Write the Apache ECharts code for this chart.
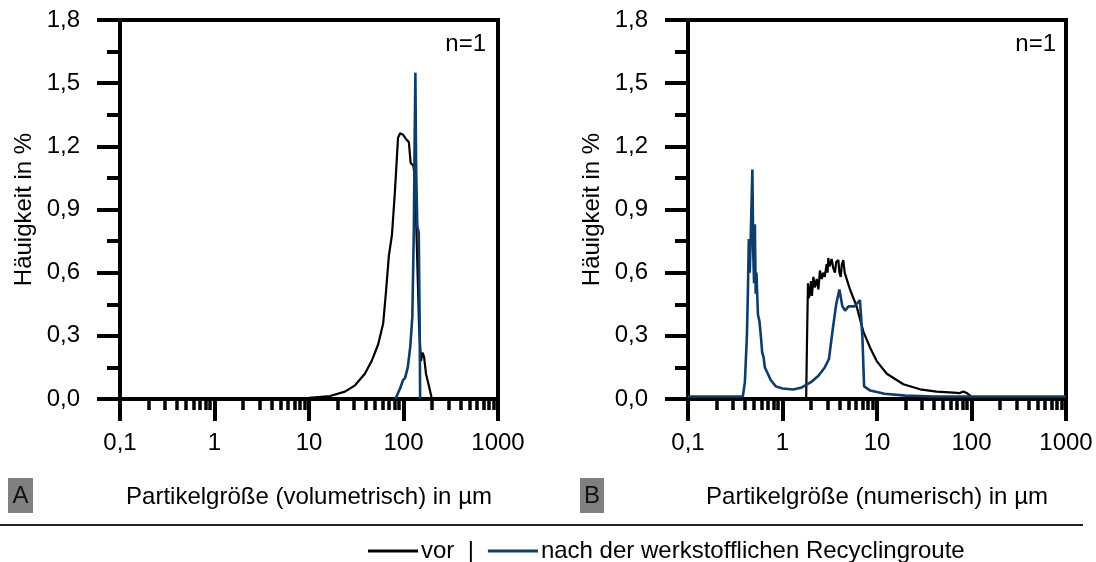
<!DOCTYPE html>
<html>
<head>
<meta charset="utf-8">
<script src="https://cdn.jsdelivr.net/npm/echarts@6/dist/echarts.min.js"></script>
<style>
  html, body { margin: 0; padding: 0; background: #fff; }
  #chart { width: 1096px; height: 562px; }
</style>
</head>
<body>
<div id="chart"></div>
<script>
// Panel A: volumetric distribution
var volSizeVor = [1, 4.9, 10, 16.7, 24, 30.7, 39, 46, 54, 61, 65, 70, 75.5, 81, 87.5, 92, 99, 106, 114, 119, 127, 132, 139, 146, 153, 159, 165, 173, 186, 200];
var volVor     = [0, 0.002, 0.006, 0.014, 0.035, 0.065, 0.12, 0.18, 0.26, 0.36, 0.5, 0.68, 0.78, 0.98, 1.24, 1.262, 1.255, 1.235, 1.22, 1.12, 1.11, 1.05, 0.7, 0.35, 0.18, 0.22, 0.2, 0.12, 0.06, 0];
var volSizeNach = [82, 92, 99, 104, 111, 118, 124, 128.5, 131, 133.6, 136, 140, 145, 148, 150];
var volNach     = [0, 0.05, 0.09, 0.1, 0.15, 0.25, 0.39, 0.79, 1.2, 1.55, 1.1, 0.82, 0.79, 0.4, 0];

// Panel B: numeric distribution
var numSizeVor = [1.78, 1.82, 1.86, 1.9, 1.95, 2.0, 2.05, 2.12, 2.2, 2.3, 2.4, 2.49, 2.6, 2.7, 2.8, 2.93, 3.0, 3.05, 3.15, 3.31, 3.45, 3.59, 3.7, 3.9, 4.0, 4.13, 4.25, 4.4, 4.55, 4.7, 5.18, 6.09, 7.17, 8.43, 9.93, 12.7, 19, 28.5, 42.8, 64, 75, 82, 88, 95, 100, 105];
var numVor     = [0, 0.3, 0.55, 0.48, 0.5, 0.56, 0.49, 0.58, 0.53, 0.57, 0.52, 0.61, 0.57, 0.6, 0.58, 0.64, 0.6, 0.67, 0.63, 0.665, 0.62, 0.6, 0.65, 0.66, 0.6, 0.58, 0.64, 0.66, 0.6, 0.58, 0.52, 0.44, 0.32, 0.245, 0.18, 0.12, 0.07, 0.046, 0.035, 0.03, 0.028, 0.035, 0.03, 0.02, 0.005, 0];
var numSizeNach = [0.1, 0.38, 0.40, 0.42, 0.43, 0.44, 0.45, 0.46, 0.48, 0.49, 0.50, 0.51, 0.52, 0.53, 0.55, 0.57, 0.59, 0.61, 0.63, 0.65, 0.70, 0.75, 0.85, 1.0, 1.3, 1.6, 2.0, 2.4, 2.8, 3.1, 3.4, 3.7, 4.0, 4.3, 4.6, 5.0, 5.8, 6.6, 7.0, 7.3, 8.5, 12, 20, 40, 100, 1000];
var numNach     = [0.012, 0.012, 0.08, 0.3, 0.5, 0.76, 0.6, 0.75, 1.09, 0.7, 0.55, 0.83, 0.5, 0.6, 0.4, 0.37, 0.3, 0.22, 0.2, 0.15, 0.12, 0.09, 0.06, 0.05, 0.045, 0.055, 0.08, 0.11, 0.15, 0.19, 0.33, 0.45, 0.52, 0.44, 0.42, 0.44, 0.44, 0.47, 0.3, 0.06, 0.04, 0.025, 0.016, 0.012, 0.012, 0.012];

var yTicks = [0, 0.3, 0.6, 0.9, 1.2, 1.5, 1.8];
var decades = [0.1, 1, 10, 100, 1000];

var FONT = "'Liberation Sans', Arial, sans-serif";
var FS = 24;
var BLUE = '#0f3d6b';

function pairs(xs, ys) {
    var out = [];
    for (var i = 0; i < xs.length; i++) out.push([xs[i], ys[i]]);
    return out;
}

// minor ticks at 2..9 of every decade
var minorTicks = [];
for (var d = 0; d < decades.length - 1; d++) {
    for (var k = 2; k <= 9; k++) minorTicks.push(+(decades[d] * k).toPrecision(6));
}

function comma(v) {
    return String(v).replace('.', ',');
}

function mainX(gridIndex, title) {
    return {
        type: 'log', logBase: 10, gridIndex: gridIndex, position: 'bottom',
        min: decades[0], max: decades[decades.length - 1],
        name: title, nameLocation: 'middle', nameGap: 86,
        nameTextStyle: { fontFamily: FONT, fontSize: FS, color: '#000' },
        axisLine: { onZero: false, lineStyle: { color: '#000', width: 4 } },
        axisTick: { show: true, inside: false, length: 22, lineStyle: { color: '#000', width: 4 } },
        axisLabel: { margin: 32, fontFamily: FONT, fontSize: FS, color: '#000',
            showMinLabel: true, showMaxLabel: true,
            formatter: function (v) { return comma(+v.toPrecision(6)); } },
        splitLine: { show: false }
    };
}

function minorX(gridIndex) {
    return {
        type: 'log', logBase: 10, gridIndex: gridIndex, position: 'bottom',
        min: decades[0], max: decades[decades.length - 1],
        axisLine: { show: false },
        axisTick: { show: true, inside: false, length: 11, customValues: minorTicks,
            lineStyle: { color: '#000', width: 3.5 } },
        axisLabel: { show: false },
        splitLine: { show: false }
    };
}

function yAx(gridIndex) {
    return {
        type: 'value', gridIndex: gridIndex,
        min: yTicks[0], max: yTicks[yTicks.length - 1], interval: 0.3,
        name: 'Häuigkeit in %', nameLocation: 'middle', nameGap: 84,
        nameTextStyle: { fontFamily: FONT, fontSize: FS, color: '#000' },
        axisLine: { show: true, lineStyle: { color: '#000', width: 4 } },
        axisTick: { show: true, inside: false, length: 23, lineStyle: { color: '#000', width: 4 } },
        minorTick: { show: true, splitNumber: 2, length: 13, lineStyle: { color: '#000', width: 4 } },
        axisLabel: { margin: 40, fontFamily: FONT, fontSize: FS, color: '#000',
            formatter: function (v) { return v.toFixed(1).replace('.', ','); } },
        splitLine: { show: false }
    };
}

function lineSeries(name, xi, yi, data, color, width, z) {
    return {
        name: name, type: 'line', xAxisIndex: xi, yAxisIndex: yi,
        data: data, symbol: 'none', showSymbol: false, z: z,
        lineStyle: { color: color, width: width },
        itemStyle: { color: color }
    };
}

var chart = echarts.init(document.getElementById('chart'));

var option = {
    animation: false,
    backgroundColor: '#fff',
    grid: [
        { left: 120, top: 20, width: 378, height: 379, show: true, borderColor: '#000', borderWidth: 4, backgroundColor: 'transparent' },
        { left: 688, top: 20, width: 378, height: 379, show: true, borderColor: '#000', borderWidth: 4, backgroundColor: 'transparent' }
    ],
    xAxis: [
        mainX(0, 'Partikelgröße (volumetrisch) in µm'),
        minorX(0),
        mainX(1, 'Partikelgröße (numerisch) in µm'),
        minorX(1)
    ],
    yAxis: [yAx(0), yAx(1)],
    legend: {
        left: 363, top: 534,
        itemWidth: 50, itemHeight: 14, itemGap: 14,
        icon: 'path://M0,6 L50,6 L50,9 L0,9 Z',
        textStyle: { fontFamily: FONT, fontSize: FS, color: '#000', padding: [0, 0, 0, -2] },
        formatter: function (name) { return name === 'vor' ? 'vor  |' : name; },
        data: ['vor', 'nach der werkstofflichen Recyclingroute']
    },
    graphic: [
        { type: 'rect', shape: { x: 8, y: 478, width: 25, height: 35 }, style: { fill: '#808080' } },
        { type: 'text', x: 20.5, y: 496, style: { text: 'A', font: FS + 'px ' + FONT, fill: '#111', align: 'center', verticalAlign: 'middle' } },
        { type: 'rect', shape: { x: 580, y: 478, width: 24, height: 35 }, style: { fill: '#808080' } },
        { type: 'text', x: 592, y: 496, style: { text: 'B', font: FS + 'px ' + FONT, fill: '#111', align: 'center', verticalAlign: 'middle' } },
        { type: 'text', x: 486, y: 44, style: { text: 'n=1', font: FS + 'px ' + FONT, fill: '#000', align: 'right', verticalAlign: 'middle' } },
        { type: 'text', x: 1056, y: 44, style: { text: 'n=1', font: FS + 'px ' + FONT, fill: '#000', align: 'right', verticalAlign: 'middle' } },
        { type: 'line', shape: { x1: 0, y1: 525, x2: 1083, y2: 525 }, style: { stroke: '#222', lineWidth: 2 } }
    ],
    series: [
        lineSeries('vor', 0, 0, pairs(volSizeVor, volVor), '#000', 2.2, 3),
        lineSeries('nach der werkstofflichen Recyclingroute', 0, 0, pairs(volSizeNach, volNach), BLUE, 2.6, 4),
        lineSeries('vor', 2, 1, pairs(numSizeVor, numVor), '#000', 2.2, 3),
        lineSeries('nach der werkstofflichen Recyclingroute', 2, 1, pairs(numSizeNach, numNach), BLUE, 2.6, 4)
    ]
};

chart.setOption(option);
</script>
</body>
</html>
